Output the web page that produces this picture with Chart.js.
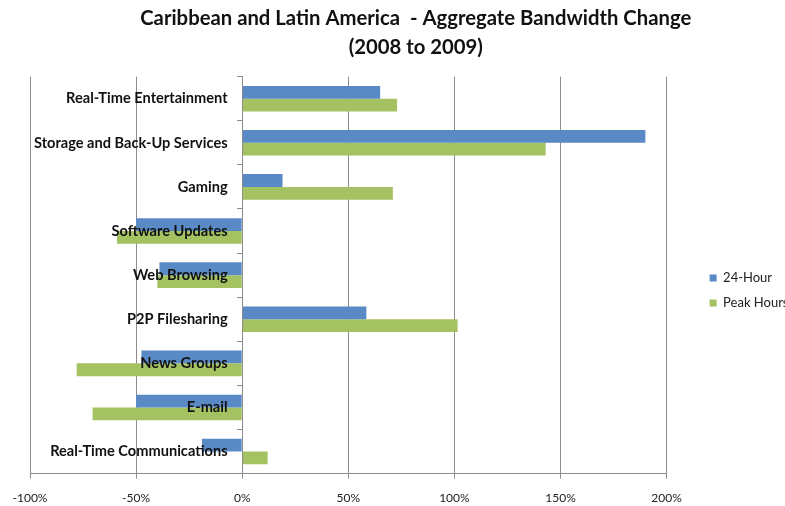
<!DOCTYPE html>
<html lang="en">
  <head>
    <meta charset="UTF-8" />
    <title>Caribbean and Latin America - Aggregate Bandwidth Change</title>
    <script src="https://cdn.jsdelivr.net/npm/chart.js"></script>
    <style>
      body {
        margin: 0;
        background: #fff;
      }
      #wrap {
        width: 785px;
        height: 506px;
      }
    </style>
  </head>
  <body>
    <div id="wrap">
      <canvas id="bwChart" width="785" height="506"></canvas>
    </div>

    <script>
      // categories, top to bottom
      const categories = [
        "Real-Time Entertainment",
        "Storage and Back-Up Services",
        "Gaming",
        "Software Updates",
        "Web Browsing",
        "P2P Filesharing",
        "News Groups",
        "E-mail",
        "Real-Time Communications",
      ];
      // change in percent
      const hour24 = [65, 190, 19, -50, -39, 58.5, -47.5, -50, -19];
      const peakHours = [73, 143, 71, -59, -40, 101.5, -78, -70.5, 12];
      const seriesNames = ["24-Hour", "Peak Hours"];
      const titleLines = [
        "Caribbean and Latin America  - Aggregate Bandwidth Change",
        "(2008 to 2009)",
      ];

      const gridGray = "#8c8c8c";
      const font = "Lato";

      // nudge legend and title to where Excel put them
      const boxShift = {
        id: "boxShift",
        afterLayout(chart) {
          const lg = chart.legend;
          lg.left += 31;
          lg.right += 31;
          lg.top += 32;
          lg.bottom += 32;
          const t = chart.titleBlock;
          t.left += 17;
          t.right += 17;
        },
      };

      new Chart(document.getElementById("bwChart"), {
        type: "bar",
        data: {
          labels: categories,
          datasets: [
            {
              label: seriesNames[0],
              data: hour24,
              backgroundColor: "#5A8AC6",
            },
            {
              label: seriesNames[1],
              data: peakHours,
              backgroundColor: "#A4C262",
            },
          ],
        },
        plugins: [boxShift],
        options: {
          indexAxis: "y",
          responsive: false,
          animation: false,
          categoryPercentage: 0.58,
          barPercentage: 1.0,
          layout: { padding: { left: 30, right: 17.5, top: 0, bottom: -11 } },
          scales: {
            x: {
              min: -100,
              max: 200,
              ticks: {
                stepSize: 50,
                padding: 12,
                color: "#222",
                font: { family: font, size: 12 },
                callback: (v) => v + "%",
              },
              grid: { color: gridGray, tickLength: 5 },
              border: { color: gridGray },
            },
            y: {
              position: { x: 0 },
              ticks: {
                z: 1,
                color: "#111",
                font: { family: font, size: 14.6, weight: "bold" },
                // label sits at the zero line, so keep a gap after the text
                callback: (v, i) => categories[i] + "\u2002\u2002",
              },
              grid: {
                drawOnChartArea: false,
                tickLength: 5,
                color: gridGray,
              },
              border: { color: gridGray, z: 1 },
            },
          },
          plugins: {
            title: {
              display: true,
              text: titleLines,
              color: "#111",
              font: { family: font, size: 20.3, weight: "bold", lineHeight: 1.42 },
              padding: { top: 4, bottom: 15 },
            },
            legend: {
              position: "right",
              labels: {
                boxWidth: 7,
                boxHeight: 7,
                padding: 12,
                color: "#222",
                font: { family: font, size: 13 },
              },
            },
            tooltip: { enabled: false },
          },
        },
      });
    </script>
  </body>
</html>
